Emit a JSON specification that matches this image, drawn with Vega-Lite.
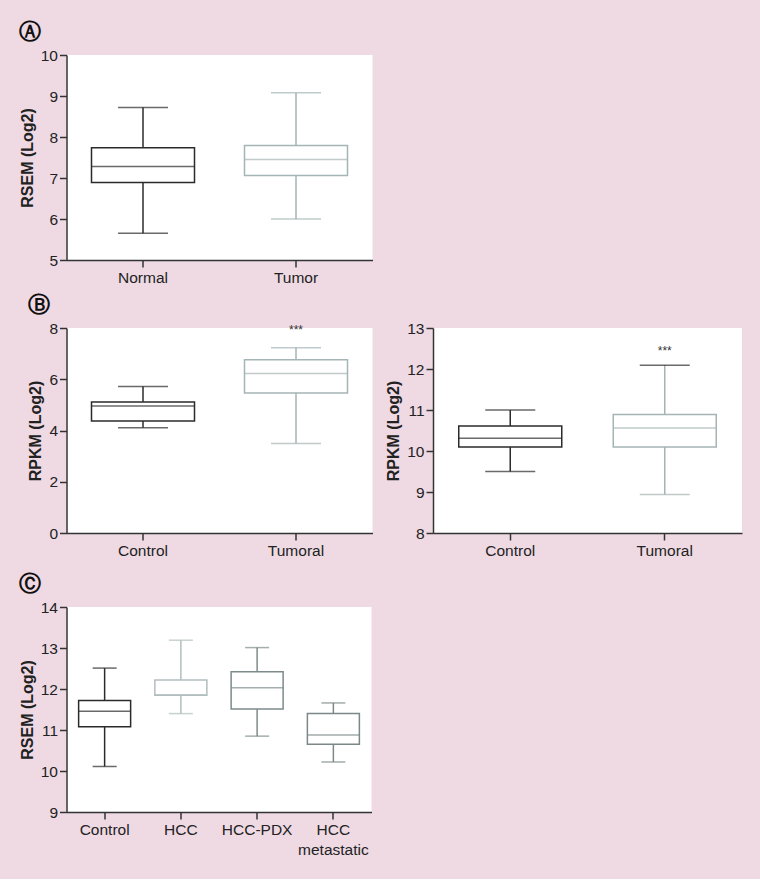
{
  "$schema": "https://vega.github.io/schema/vega-lite/v6.json",
  "background": "#efdae4",
  "padding": {"left": 18.5, "top": 21, "right": 17.5, "bottom": 21},
  "spacing": 14,
  "datasets": {
    "a": [
      {"group": "Normal", "lower": 5.65, "q1": 6.89, "median": 7.28, "q3": 7.74, "upper": 8.72},
      {"group": "Tumor", "lower": 6.0, "q1": 7.06, "median": 7.45, "q3": 7.79, "upper": 9.08}
    ],
    "bl": [
      {"group": "Control", "lower": 4.11, "q1": 4.37, "median": 4.96, "q3": 5.11, "upper": 5.72},
      {"group": "Tumoral", "lower": 3.49, "q1": 5.46, "median": 6.22, "q3": 6.76, "upper": 7.23}
    ],
    "bl_sig": [{"group": "Tumoral", "y": 7.93, "label": "***"}],
    "br": [
      {"group": "Control", "lower": 9.5, "q1": 10.1, "median": 10.31, "q3": 10.61, "upper": 11.0},
      {"group": "Tumoral", "lower": 8.94, "q1": 10.1, "median": 10.56, "q3": 10.89, "upper": 12.09}
    ],
    "br_sig": [{"group": "Tumoral", "y": 12.45, "label": "***"}],
    "c": [
      {"group": "Control", "lower": 10.11, "q1": 11.08, "median": 11.46, "q3": 11.72, "upper": 12.51},
      {"group": "HCC", "lower": 11.4, "q1": 11.85, "median": 11.86, "q3": 12.22, "upper": 13.19},
      {"group": "HCC-PDX", "lower": 10.85, "q1": 11.51, "median": 12.03, "q3": 12.42, "upper": 13.01},
      {"group": "HCC metastatic", "lower": 10.22, "q1": 10.65, "median": 10.88, "q3": 11.4, "upper": 11.66}
    ]
  },
  "config": {
    "view": {"fill": "white", "stroke": null},
    "axis": {
      "grid": false,
      "domainColor": "#333333",
      "domainWidth": 1.5,
      "tickColor": "#333333",
      "tickWidth": 1.5,
      "tickSize": 7,
      "labelFont": "Liberation Sans",
      "labelFontSize": 15.5,
      "labelColor": "#222222",
      "labelPadding": 2,
      "titleFont": "Liberation Sans",
      "titleFontSize": 16,
      "titleFontWeight": "bold",
      "titleColor": "#222222",
      "titlePadding": 5
    },
    "axisX": {"labelAngle": 0, "labelPadding": 3},
    "title": {"font": "DejaVu Sans", "fontSize": 22, "fontWeight": "bold", "color": "#111111", "anchor": "start", "frame": "bounds", "offset": 4}
  },
  "resolve": {"scale": {"x": "independent", "y": "independent"}},
  "vconcat": [
    {
      "spacing": 8,
      "resolve": {"scale": {"x": "independent", "y": "independent"}},
      "vconcat": [
        {
          "title": {"text": "Ⓐ"},
          "width": 306,
          "height": 205,
          "data": {"name": "a"},
          "encoding": {
            "x": {"field": "group", "type": "nominal", "sort": null, "title": null,
                  "scale": {"domain": ["Normal", "Tumor"], "paddingInner": 0, "paddingOuter": 0}},
            "color": {"field": "group", "type": "nominal", "legend": null,
                      "scale": {"domain": ["Normal", "Tumor", "Control", "Tumoral", "HCC", "HCC-PDX", "HCC metastatic"],
                                "range": ["#2b2b2b", "#a5b4b4", "#2b2b2b", "#a5b4b4", "#b2bebe", "#7e8b8b", "#7c8888"]}}
          },
          "layer": [
            {"mark": {"type": "rule", "strokeWidth": 1.5},
             "encoding": {"y": {"field": "lower", "type": "quantitative", "title": "RSEM (Log2)",
                                "scale": {"domain": [5, 10], "nice": false, "zero": false},
                                "axis": {"values": [5, 6, 7, 8, 9, 10]}},
                          "y2": {"field": "upper"}}},
            {"mark": {"type": "bar", "fill": "white", "strokeWidth": 1.5, "size": 103},
             "encoding": {"y": {"field": "q1", "type": "quantitative", "title": "RSEM (Log2)"}, "y2": {"field": "q3"},
                          "stroke": {"field": "group", "type": "nominal", "legend": null,
                                     "scale": {"domain": ["Normal", "Tumor", "Control", "Tumoral", "HCC", "HCC-PDX", "HCC metastatic"],
                                               "range": ["#2b2b2b", "#a5b4b4", "#2b2b2b", "#a5b4b4", "#b2bebe", "#7e8b8b", "#7c8888"]}}}},
            {"mark": {"type": "tick", "size": 103, "thickness": 1.5},
             "encoding": {"y": {"field": "median", "type": "quantitative", "title": "RSEM (Log2)"}}},
            {"mark": {"type": "tick", "size": 50, "thickness": 1.5},
             "encoding": {"y": {"field": "upper", "type": "quantitative", "title": "RSEM (Log2)"}}},
            {"mark": {"type": "tick", "size": 50, "thickness": 1.5},
             "encoding": {"y": {"field": "lower", "type": "quantitative", "title": "RSEM (Log2)"}}}
          ]
        },
        {
          "spacing": 12.5,
          "resolve": {"scale": {"x": "independent", "y": "independent"}},
          "hconcat": [
            {
              "title": {"text": "Ⓑ"},
              "width": 306,
              "height": 205,
              "encoding": {
                "x": {"field": "group", "type": "nominal", "sort": null, "title": null,
                      "scale": {"domain": ["Control", "Tumoral"], "paddingInner": 0, "paddingOuter": 0}}
              },
              "layer": [
                {"data": {"name": "bl"}, "mark": {"type": "rule", "strokeWidth": 1.5},
                 "encoding": {"y": {"field": "lower", "type": "quantitative", "title": "RPKM (Log2)",
                                    "scale": {"domain": [0, 8], "nice": false},
                                    "axis": {"values": [0, 2, 4, 6, 8]}},
                              "y2": {"field": "upper"},
                              "color": {"field": "group", "type": "nominal", "legend": null,
                                        "scale": {"domain": ["Normal", "Tumor", "Control", "Tumoral", "HCC", "HCC-PDX", "HCC metastatic"],
                                                  "range": ["#2b2b2b", "#a5b4b4", "#2b2b2b", "#a5b4b4", "#b2bebe", "#7e8b8b", "#7c8888"]}}}},
                {"data": {"name": "bl"}, "mark": {"type": "bar", "fill": "white", "strokeWidth": 1.5, "size": 103},
                 "encoding": {"y": {"field": "q1", "type": "quantitative", "title": "RPKM (Log2)"}, "y2": {"field": "q3"},
                              "stroke": {"field": "group", "type": "nominal", "legend": null,
                                         "scale": {"domain": ["Normal", "Tumor", "Control", "Tumoral", "HCC", "HCC-PDX", "HCC metastatic"],
                                                   "range": ["#2b2b2b", "#a5b4b4", "#2b2b2b", "#a5b4b4", "#b2bebe", "#7e8b8b", "#7c8888"]}}}},
                {"data": {"name": "bl"}, "mark": {"type": "tick", "size": 103, "thickness": 1.5},
                 "encoding": {"y": {"field": "median", "type": "quantitative", "title": "RPKM (Log2)"},
                              "color": {"field": "group", "type": "nominal", "legend": null}}},
                {"data": {"name": "bl"}, "mark": {"type": "tick", "size": 50, "thickness": 1.5},
                 "encoding": {"y": {"field": "upper", "type": "quantitative", "title": "RPKM (Log2)"},
                              "color": {"field": "group", "type": "nominal", "legend": null}}},
                {"data": {"name": "bl"}, "mark": {"type": "tick", "size": 50, "thickness": 1.5},
                 "encoding": {"y": {"field": "lower", "type": "quantitative", "title": "RPKM (Log2)"},
                              "color": {"field": "group", "type": "nominal", "legend": null}}},
                {"data": {"name": "bl_sig"}, "mark": {"type": "text", "fontSize": 12, "font": "Liberation Sans", "color": "#333333"},
                 "encoding": {"y": {"field": "y", "type": "quantitative", "title": "RPKM (Log2)"}, "text": {"field": "label"}}}
              ]
            },
            {
              "width": 309,
              "height": 205,
              "encoding": {
                "x": {"field": "group", "type": "nominal", "sort": null, "title": null,
                      "scale": {"domain": ["Control", "Tumoral"], "paddingInner": 0, "paddingOuter": 0}}
              },
              "layer": [
                {"data": {"name": "br"}, "mark": {"type": "rule", "strokeWidth": 1.5},
                 "encoding": {"y": {"field": "lower", "type": "quantitative", "title": "RPKM (Log2)",
                                    "scale": {"domain": [8, 13], "nice": false, "zero": false},
                                    "axis": {"values": [8, 9, 10, 11, 12, 13]}},
                              "y2": {"field": "upper"},
                              "color": {"field": "group", "type": "nominal", "legend": null,
                                        "scale": {"domain": ["Normal", "Tumor", "Control", "Tumoral", "HCC", "HCC-PDX", "HCC metastatic"],
                                                  "range": ["#2b2b2b", "#a5b4b4", "#2b2b2b", "#a5b4b4", "#b2bebe", "#7e8b8b", "#7c8888"]}}}},
                {"data": {"name": "br"}, "mark": {"type": "bar", "fill": "white", "strokeWidth": 1.5, "size": 103},
                 "encoding": {"y": {"field": "q1", "type": "quantitative", "title": "RPKM (Log2)"}, "y2": {"field": "q3"},
                              "stroke": {"field": "group", "type": "nominal", "legend": null,
                                         "scale": {"domain": ["Normal", "Tumor", "Control", "Tumoral", "HCC", "HCC-PDX", "HCC metastatic"],
                                                   "range": ["#2b2b2b", "#a5b4b4", "#2b2b2b", "#a5b4b4", "#b2bebe", "#7e8b8b", "#7c8888"]}}}},
                {"data": {"name": "br"}, "mark": {"type": "tick", "size": 103, "thickness": 1.5},
                 "encoding": {"y": {"field": "median", "type": "quantitative", "title": "RPKM (Log2)"},
                              "color": {"field": "group", "type": "nominal", "legend": null}}},
                {"data": {"name": "br"}, "mark": {"type": "tick", "size": 50, "thickness": 1.5, "color": "#2b2b2b"},
                 "encoding": {"y": {"field": "upper", "type": "quantitative", "title": "RPKM (Log2)"}}},
                {"data": {"name": "br"}, "mark": {"type": "tick", "size": 50, "thickness": 1.5},
                 "encoding": {"y": {"field": "lower", "type": "quantitative", "title": "RPKM (Log2)"},
                              "color": {"field": "group", "type": "nominal", "legend": null}}},
                {"data": {"name": "br_sig"}, "mark": {"type": "text", "fontSize": 12, "font": "Liberation Sans", "color": "#333333"},
                 "encoding": {"y": {"field": "y", "type": "quantitative", "title": "RPKM (Log2)"}, "text": {"field": "label"}}}
              ]
            }
          ]
        }
      ]
    },
    {
      "title": {"text": "Ⓒ"},
      "width": 305,
      "height": 205,
      "data": {"name": "c"},
      "encoding": {
        "x": {"field": "group", "type": "nominal", "sort": null, "title": null,
              "scale": {"domain": ["Control", "HCC", "HCC-PDX", "HCC metastatic"], "paddingInner": 0, "paddingOuter": 0},
              "axis": {"labelExpr": "datum.value == 'HCC metastatic' ? ['HCC', 'metastatic'] : datum.label", "labelLineHeight": 20}},
        "color": {"field": "group", "type": "nominal", "legend": null,
                  "scale": {"domain": ["Normal", "Tumor", "Control", "Tumoral", "HCC", "HCC-PDX", "HCC metastatic"],
                            "range": ["#2b2b2b", "#a5b4b4", "#2b2b2b", "#a5b4b4", "#b2bebe", "#7e8b8b", "#7c8888"]}}
      },
      "layer": [
        {"mark": {"type": "rule", "strokeWidth": 1.5},
         "encoding": {"y": {"field": "lower", "type": "quantitative", "title": "RSEM (Log2)",
                            "scale": {"domain": [9, 14], "nice": false, "zero": false},
                            "axis": {"values": [9, 10, 11, 12, 13, 14]}},
                      "y2": {"field": "upper"}}},
        {"mark": {"type": "bar", "fill": "white", "strokeWidth": 1.5, "size": 52},
         "encoding": {"y": {"field": "q1", "type": "quantitative", "title": "RSEM (Log2)"}, "y2": {"field": "q3"},
                      "stroke": {"field": "group", "type": "nominal", "legend": null,
                                 "scale": {"domain": ["Normal", "Tumor", "Control", "Tumoral", "HCC", "HCC-PDX", "HCC metastatic"],
                                           "range": ["#2b2b2b", "#a5b4b4", "#2b2b2b", "#a5b4b4", "#b2bebe", "#7e8b8b", "#7c8888"]}}}},
        {"mark": {"type": "tick", "size": 52, "thickness": 1.5},
         "encoding": {"y": {"field": "median", "type": "quantitative", "title": "RSEM (Log2)"}}},
        {"mark": {"type": "tick", "size": 24, "thickness": 1.5},
         "encoding": {"y": {"field": "upper", "type": "quantitative", "title": "RSEM (Log2)"}}},
        {"mark": {"type": "tick", "size": 24, "thickness": 1.5},
         "encoding": {"y": {"field": "lower", "type": "quantitative", "title": "RSEM (Log2)"}}}
      ]
    }
  ]
}
